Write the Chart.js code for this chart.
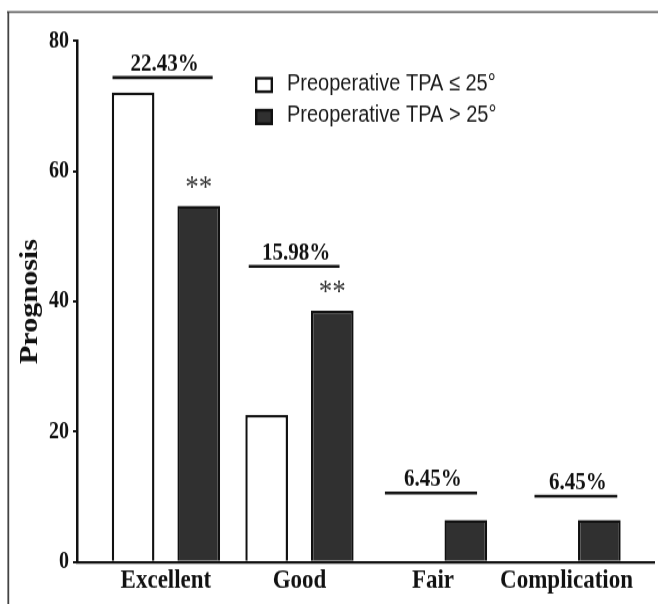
<!DOCTYPE html>
<html>
<head>
<meta charset="utf-8">
<script src="https://cdn.jsdelivr.net/npm/chart.js@4.4.0/dist/chart.umd.min.js"></script>
<style>
  html, body { margin: 0; background: #fff; }
  #pagina { width: 658px; height: 604px; position: relative; }
  /* the figure is a little taller than wide in the original, so the canvas is stretched */
  #wrap { position: absolute; left: 0; top: 0; width: 658px; height: 521px; transform: scaleY(1.1593); transform-origin: 0 0; }
</style>
</head>
<body>
<div id="pagina"><div id="wrap"><canvas id="grafico" width="658" height="521"></canvas></div></div>
<script>
const categories = ['Excellent', 'Good', 'Fair', 'Complication'];
const lowTPA = [72.1, 22.6, 0, 0];
const highTPA = [54.7, 38.6, 6.45, 6.45];
const seriesNames = ['Preoperative TPA \u2264 25\u00b0', 'Preoperative TPA > 25\u00b0'];
const yTicks = [0, 20, 40, 60, 80];

// difference brackets above each group
const diffLabels = ['22.43%', '15.98%', '6.45%', '6.45%'];
const bracketLevel = [74.4, 45.4, 10.6, 10.1];
const bracketFrom = [-0.40, -0.38, -0.36, -0.24];
const bracketTo = [0.35, 0.30, 0.33, 0.38];
const stars = ['**', '**', '', ''];

var frame = {
    id: 'frame',
    beforeDraw(chart) {
        const ctx = chart.ctx;
        ctx.save();
        ctx.strokeStyle = '#666';
        ctx.lineWidth = 1.8;
        ctx.beginPath();
        ctx.moveTo(7, 10.4);
        ctx.lineTo(658, 10.4);
        ctx.stroke();
        ctx.strokeStyle = '#444';
        ctx.lineWidth = 1.8;
        ctx.beginPath();
        ctx.moveTo(8.3, 10);
        ctx.lineTo(8.3, 521);
        ctx.stroke();
        ctx.restore();
    }
};

var notes = {
    id: 'notes',
    afterDatasetsDraw(chart) {
        const { ctx, scales: { x, y } } = chart;
        ctx.save();
        ctx.strokeStyle = '#111';
        ctx.fillStyle = '#111';
        ctx.lineWidth = 2.6;
        ctx.font = 'bold 21px "Liberation Serif"';
        ctx.textAlign = 'center';
        ctx.textBaseline = 'alphabetic';
        categories.forEach((c, i) => {
            const x0 = x.getPixelForValue(i + bracketFrom[i]);
            const x1 = x.getPixelForValue(i + bracketTo[i]);
            const yy = y.getPixelForValue(bracketLevel[i]);
            ctx.beginPath();
            ctx.moveTo(x0, yy);
            ctx.lineTo(x1, yy);
            ctx.stroke();
            ctx.fillText(diffLabels[i], (x0 + x1) / 2 + 2, yy - 6);
        });

        // significance stars over the TPA > 25 bars
        const meta = chart.getDatasetMeta(1);
        ctx.font = '27px "Liberation Serif"';
        ctx.fillStyle = '#3a3a3a';
        meta.data.forEach((bar, i) => {
            if (stars[i]) ctx.fillText(stars[i], bar.x, bar.y - 8);
        });

        // legend
        const rows = [73.3, 100.9];
        chart.data.datasets.forEach((ds, i) => {
            ctx.fillStyle = ds.backgroundColor;
            ctx.fillRect(255, rows[i] - 7, 18, 14);
            ctx.strokeStyle = '#111';
            ctx.lineWidth = 2.4;
            ctx.strokeRect(256.2, rows[i] - 5.8, 15.6, 11.6);
            ctx.fillStyle = '#1a1a1a';
            ctx.font = '20px "Liberation Sans"';
            ctx.textAlign = 'left';
            ctx.textBaseline = 'middle';
            ctx.fillText(ds.label, 287, rows[i] - 1);
        });
        ctx.restore();
    }
};

function pontos(valores) {
    return valores.map((v, i) => ({ x: i, y: v }));
}

var config = {
    type: 'bar',
    data: {
        datasets: [{
            label: seriesNames[0],
            data: pontos(lowTPA),
            backgroundColor: '#ffffff',
            borderColor: '#111111',
            borderWidth: 2.4
        }, {
            label: seriesNames[1],
            data: pontos(highTPA),
            backgroundColor: '#303030',
            borderColor: '#111111',
            borderWidth: 2.4
        }]
    },
    options: {
        responsive: false,
        animation: false,
        categoryPercentage: 0.983,
        barPercentage: 0.65,
        layout: { padding: { top: 35.4, right: 4, bottom: 0, left: 0 } },
        plugins: {
            legend: { display: false },
            tooltip: { enabled: false }
        },
        scales: {
            x: {
                type: 'linear',
                offset: false,
                min: -0.666,
                max: 3.655,
                afterBuildTicks(s) { s.ticks = categories.map((c, i) => ({ value: i })); },
                afterFit(s) { s.height = 36.2; },
                grid: { offset: false, drawOnChartArea: false, drawTicks: false, color: '#111' },
                border: { display: true, color: '#111', width: 2.3 },
                ticks: {
                    callback: (v) => categories[v],
                    autoSkip: false,
                    maxRotation: 0,
                    padding: 2,
                    color: '#111',
                    font: { family: 'Liberation Serif', size: 23, weight: 'bold' }
                }
            },
            y: {
                min: 0,
                max: 80,
                afterBuildTicks(s) { s.ticks = yTicks.map(v => ({ value: v })); },
                afterFit(s) { s.width = 77; },
                grid: { drawOnChartArea: false, drawTicks: true, tickLength: 4, lineWidth: 2, color: '#111' },
                border: { display: true, color: '#111', width: 2.5 },
                ticks: {
                    padding: 4,
                    color: '#111',
                    font: { family: 'Liberation Serif', size: 20, weight: 'bold' }
                },
                title: {
                    display: true,
                    text: 'Prognosis',
                    color: '#111',
                    padding: { top: 15, bottom: 0 },
                    font: { family: 'Liberation Serif', size: 26, weight: 'bold' }
                }
            }
        }
    },
    plugins: [frame, notes]
};

new Chart(document.getElementById('grafico'), config);
</script>
</body>
</html>
